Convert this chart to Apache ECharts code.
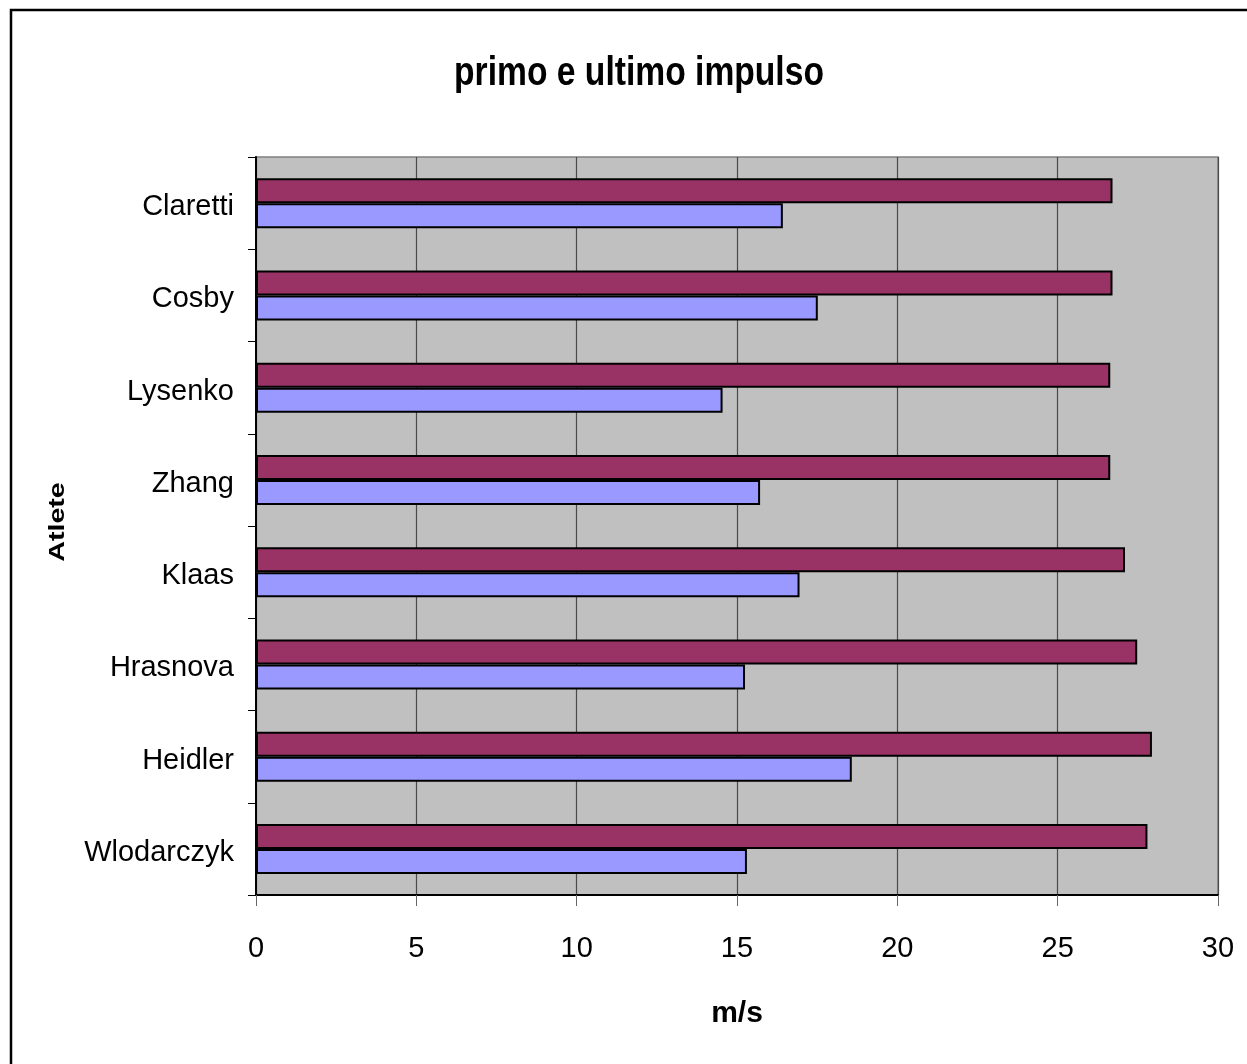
<!DOCTYPE html>
<html>
<head>
<meta charset="utf-8">
<script src="https://cdn.jsdelivr.net/npm/echarts@6/dist/echarts.min.js"></script>
<style>
  html, body { margin: 0; padding: 0; background: #fff; }
  #chart { width: 1247px; height: 1064px; }
</style>
</head>
<body>
<div id="chart"></div>
<script>
// Athletes, top to bottom
const athletes = ['Claretti', 'Cosby', 'Lysenko', 'Zhang', 'Klaas', 'Hrasnova', 'Heidler', 'Wlodarczyk'];
// Speed at the last impulse (m/s)
const lastImpulse = [26.71, 26.71, 26.64, 26.64, 27.10, 27.48, 27.94, 27.80];
// Speed at the first impulse (m/s)
const firstImpulse = [16.43, 17.52, 14.55, 15.72, 16.95, 15.25, 18.58, 15.31];
const xTicks = [0, 5, 10, 15, 20, 25, 30];

const sans = "'Liberation Sans', Arial, sans-serif";

const chart = echarts.init(document.getElementById('chart'), null, { renderer: 'canvas' });

chart.setOption({
  backgroundColor: '#ffffff',
  animation: false,
  graphic: [
    {
      // outer chart frame
      type: 'rect',
      shape: { x: 11, y: 10, width: 1260, height: 1080 },
      style: { fill: 'none', stroke: '#000', lineWidth: 2.5 },
      z: 100
    },
    {
      // chart title, in a tall condensed face
      type: 'text',
      x: 639, y: 74,
      scaleX: 0.82,
      style: {
        text: 'primo e ultimo impulso',
        font: 'bold 41px ' + sans,
        fill: '#000',
        align: 'center',
        verticalAlign: 'middle'
      }
    },
    {
      // category axis title
      type: 'text',
      x: 58, y: 522,
      rotation: Math.PI / 2,
      scaleX: 1.3,
      style: {
        text: 'Atlete',
        font: 'bold 22px ' + sans,
        fill: '#000',
        align: 'center',
        verticalAlign: 'middle'
      }
    }
  ],
  grid: {
    left: 256, top: 157, right: 29, bottom: 169,
    show: true,
    backgroundColor: '#c0c0c0',
    borderColor: '#808080',
    borderWidth: 1.5
  },
  xAxis: {
    type: 'value',
    min: 0, max: 30, interval: 5,
    name: 'm/s',
    nameLocation: 'middle',
    nameGap: 104,
    nameTextStyle: { fontFamily: sans, fontWeight: 'bold', fontSize: 30, color: '#000' },
    axisLine: { show: true, lineStyle: { color: '#000', width: 2 } },
    axisTick: { show: true, length: 11, lineStyle: { color: '#666', width: 1 } },
    axisLabel: {
      fontFamily: sans, fontSize: 29, color: '#000', margin: 39,
      formatter: v => xTicks.includes(v) ? String(v) : ''
    },
    splitLine: { show: true, lineStyle: { color: '#4a4a4a', width: 1.2 } }
  },
  yAxis: {
    type: 'category',
    data: athletes,
    inverse: true,
    axisLine: { show: true, lineStyle: { color: '#000', width: 2 } },
    axisTick: { show: true, length: 8, lineStyle: { color: '#000', width: 1 } },
    axisLabel: {
      color: '#000', margin: 22,
      formatter: v => '{n|' + v + '}',
      rich: {
        n: { fontFamily: sans, fontSize: 29, color: '#000', lineHeight: 29, padding: [8, 0, 0, 0] }
      }
    },
    splitLine: { show: false }
  },
  series: [
    {
      name: 'ultimo impulso',
      type: 'bar',
      data: lastImpulse,
      barWidth: 25,
      barGap: '0%',
      itemStyle: { color: '#993366', borderColor: '#000', borderWidth: 2 }
    },
    {
      name: 'primo impulso',
      type: 'bar',
      data: firstImpulse,
      barWidth: 25,
      barGap: '0%',
      itemStyle: { color: '#9999ff', borderColor: '#000', borderWidth: 2 }
    }
  ]
});
</script>
</body>
</html>
